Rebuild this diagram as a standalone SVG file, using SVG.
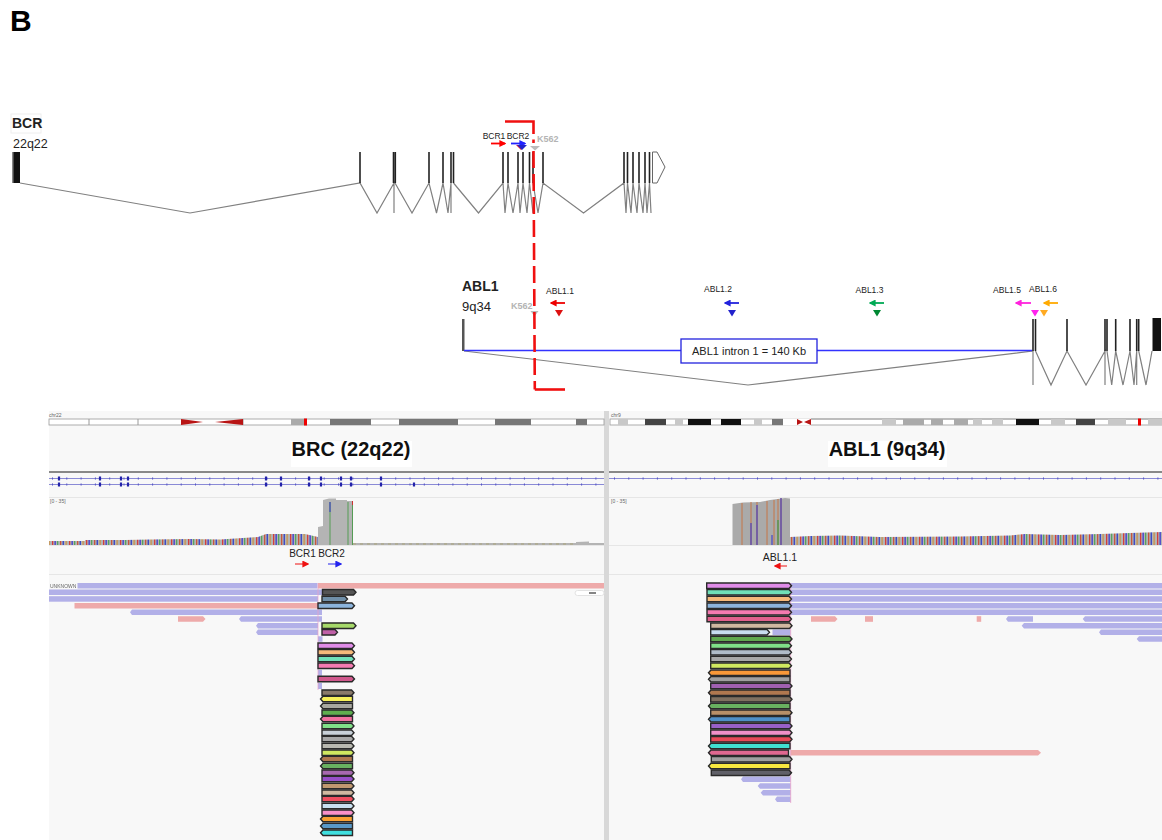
<svg xmlns="http://www.w3.org/2000/svg" width="1162" height="840" viewBox="0 0 1162 840">
<style>
text{font-family:"Liberation Sans",Arial,sans-serif;fill:#222}
.lab{font-size:8.5px;text-anchor:middle}
.k{font-size:9px;font-weight:700;fill:#b4b4b4}
.ex{stroke:#222;stroke-width:1.6;fill:none}
.in{stroke:#808080;stroke-width:1.2;fill:none}
.title{font-size:20px;font-weight:700;fill:#111;text-anchor:middle}
.igv{font-size:10px;fill:#222;text-anchor:middle}
.tiny{font-size:5px;fill:#666}
.r{stroke:#2a2a2a;stroke-width:1.4}
.b{fill:#b2b0e8}.p{fill:#eeaaaa}
.dk{fill:#777}.md{fill:#aaa}.lt{fill:#c8c8c8}.bk{fill:#111}.wh{fill:#fff}
</style>
<defs>
<marker id="ar" viewBox="0 0 10 10" refX="8" refY="5" markerWidth="7" markerHeight="7" markerUnits="userSpaceOnUse" orient="auto-start-reverse"><path d="M0 0L10 5L0 10Z" fill="context-stroke"/></marker>
<pattern id="mm" width="17" height="40" patternUnits="userSpaceOnUse"><rect width="17" height="40" fill="#b4b4b4"/><rect x="1" width="1.3" height="40" fill="#d43c3c"/><rect x="3.5" width="1.3" height="40" fill="#3a3ad0"/><rect x="6.2" width="1" height="40" fill="#3fa04a"/><rect x="9" width="1.3" height="40" fill="#c8553c"/><rect x="11.6" width="1.3" height="40" fill="#2f3fc8"/><rect x="14.6" width="1" height="40" fill="#d08a30"/></pattern>
<filter id="s" x="-2%" y="-2%" width="104%" height="104%"><feGaussianBlur stdDeviation="0.35"/></filter>
</defs>
<rect width="1162" height="840" fill="#fff"/>
<text x="10" y="31" font-size="30" font-weight="700" style="fill:#000">B</text>

<g id="gene-bcr">
<rect x="11" y="114" width="30" height="19" fill="#fff" stroke="#eee"/>
<text x="12" y="128" font-size="14" font-weight="700">BCR</text>
<text x="13" y="148" font-size="12.500">22q22</text>
<rect x="12" y="152" width="8" height="31" class="bk"/><rect x="12" y="152" width="1.5" height="31" fill="#888"/>
<path class="in" d="M20 183L190 213L360 183L377 213L394 183V213M395 183L412 213L429 183L436.500 213L443 183L448 213L451 183V213M453.500 183L478.500 213L503 183L505 213L508 183L513 213L518 183L520 213L523 183L527 213L529.500 183L533 213M533 183L538 213L543 183L583.500 213L624 183L626 213L627.500 183L631 213L633 183L637 213L639 183L643 213L645 183L647 213L649.500 183L651 213"/>
<path class="ex" d="M360 152V183M393.500 152V183M395.300 152V183M429 152V183M443 152V183M451 152V183M453.500 152V183M503 152V183M508 152V183M518 152V183M523 152V183M529.500 152V183M533 152V183M543 152V183M624 152V183M627.500 152V183M633 152V183M639 152V183M645 152V183M649.500 152V183"/>
<path d="M652.500 152H657L665 167L657 183H652.500Z" fill="#fff" stroke="#666"/>
</g>

<g id="primers-bcr">
<text class="lab" x="494" y="139">BCR1</text><text class="lab" x="518" y="139">BCR2</text>
<text class="k" x="537" y="142">K562</text>
<path d="M491 143.500H505" stroke="#f00" stroke-width="1.800" marker-end="url(#ar)"/>
<path d="M511 143.500H525" stroke="#22f" stroke-width="1.800" marker-end="url(#ar)"/>
<path d="M516 145H526L521 150Z" fill="#e22"/><path d="M517 145H527L522 150Z" fill="#22c"/>
<path d="M530 146H540L535 150.500Z" fill="#bbb"/>
</g>

<g id="gene-abl1">
<text x="462" y="291" font-size="14" font-weight="700">ABL1</text>
<text x="462" y="311" font-size="13">9q34</text>
<rect x="462" y="319" width="2.500" height="32" fill="#555"/>
<path class="in" d="M464 351L748 385L1033 351V385M1035.500 351L1051 385L1067 351L1086 385L1105 351V385M1107 351L1111.700 385L1115.700 351L1123 385L1130 351L1134 385L1136.700 351V385M1138.700 351L1146 385L1152 351"/>
<path d="M464 350.500H681M817 350.500H1032" stroke="#33f" stroke-width="1.600" fill="none"/>
<path class="ex" d="M1033 319V351M1035.500 319V351M1067 319V351M1105 319V351M1107 319V351M1115.700 319V351M1130 319V351M1136.700 319V351M1138.700 319V351"/>
<rect x="1152.500" y="318" width="8.500" height="33" class="bk"/>
<rect x="681" y="339" width="136" height="24" fill="#fff" stroke="#22d" stroke-width="1.300"/>
<text x="749" y="355" font-size="11" text-anchor="middle">ABL1 intron 1 = 140 Kb</text>
</g>

<g id="primers-abl1">
<text class="lab" x="560" y="294">ABL1.1</text><text class="lab" x="718" y="292">ABL1.2</text><text class="lab" x="869.500" y="293">ABL1.3</text><text class="lab" x="1007" y="293">ABL1.5</text><text class="lab" x="1043" y="292">ABL1.6</text>
<text class="k" x="511" y="309">K562</text>
<path d="M565 303H551" stroke="#e00" stroke-width="1.800" marker-end="url(#ar)"/>
<path d="M739 303H725" stroke="#22d" stroke-width="1.800" marker-end="url(#ar)"/>
<path d="M884 303H870" stroke="#0a5" stroke-width="1.800" marker-end="url(#ar)"/>
<path d="M1031 303H1016" stroke="#f2d" stroke-width="1.800" marker-end="url(#ar)"/>
<path d="M1058 303H1044" stroke="#fa0" stroke-width="1.800" marker-end="url(#ar)"/>
<path d="M555 310H563L559 316.500Z" fill="#d11"/><path d="M728 310H736L732 316.500Z" fill="#22c"/><path d="M873 310H881L877 316.500Z" fill="#083"/><path d="M1031 310H1039L1035 316.500Z" fill="#f2e"/><path d="M1040 310H1048L1044 316.500Z" fill="#fa2"/><path d="M530.500 311H538.500L534.500 316.500Z" fill="#bbb"/>
</g>

<g id="panels">
<rect x="49" y="411" width="1113" height="429" fill="#f8f8f8"/>
<rect x="604" y="411" width="5" height="429" fill="#d8d8d8"/>
<path d="M49 472H604M609 472H1162" stroke="#888" stroke-width="2"/>
<path d="M49 497.500H604M609 497.500H1162M49 545.500H604M609 545.500H1162M49 574.500H604M609 574.500H1162" stroke="#e6e6e6"/>
<rect x="291" y="441" width="121" height="26" fill="#fff"/><rect x="828" y="441" width="119" height="26" fill="#fff"/>
<text class="title" x="351" y="456">BRC (22q22)</text>
<text class="title" x="887" y="456">ABL1 (9q34)</text>
<text class="tiny" x="49" y="417">chr22</text><text class="tiny" x="611" y="417">chr9</text>
<text class="tiny" x="50" y="503">[0 - 35]</text><text class="tiny" x="611" y="503">[0 - 35]</text>
</g>

<g id="ideogram-chr22">
<rect x="49" y="419" width="555" height="6" fill="#fff" stroke="#999" stroke-width="0.800"/>
<path d="M89 419V425M138 419V425M243 419V425" stroke="#999"/>
<path d="M181 419L203 422L181 425ZM243 419L215 422L243 425Z" fill="#b81414"/>
<rect x="291" y="419" width="13" height="6" class="md"/><rect x="304" y="418.500" width="3" height="7" fill="#e00"/>
<rect x="330" y="419" width="41" height="6" class="dk"/><rect x="399" y="419" width="59" height="6" class="dk"/><rect x="495" y="419" width="36" height="6" class="dk"/><rect x="576" y="419" width="11" height="6" class="dk"/>
</g>
<g id="ideogram-chr9">
<rect x="610" y="419" width="552" height="6" fill="#fff" stroke="#999" stroke-width="0.800"/>
<rect x="618" y="419" width="10" height="6" class="lt"/><rect x="645" y="419" width="21" height="6" fill="#444"/><rect x="675" y="419" width="8" height="6" class="lt"/><rect x="688" y="419" width="23" height="6" class="bk"/><rect x="721" y="419" width="20" height="6" class="bk"/><rect x="754" y="419" width="8" height="6" class="lt"/><rect x="772" y="419" width="11" height="6" class="dk"/>
<rect x="783" y="418.500" width="28" height="7" fill="#fff"/>
<path d="M797 419L803 422L797 425ZM811 419L804 422L811 425Z" fill="#b81414"/>
<path d="M811 419H1162" stroke="#999" stroke-width="0.800"/>
<rect x="882" y="419" width="14" height="6" class="lt"/><rect x="903" y="419" width="21" height="6" class="md"/><rect x="931" y="419" width="12" height="6" class="md"/><rect x="954" y="419" width="14" height="6" class="md"/><rect x="973" y="419" width="9" height="6" class="lt"/><rect x="992" y="419" width="11" height="6" class="lt"/><rect x="1016" y="419" width="23" height="6" class="bk"/><rect x="1051" y="419" width="14" height="6" class="lt"/><rect x="1076" y="419" width="19" height="6" fill="#444"/><rect x="1108" y="419" width="18" height="6" class="lt"/><rect x="1138" y="418.500" width="3" height="7" fill="#e00"/><rect x="1148" y="419" width="14" height="6" class="lt"/>
</g>

<g id="gene-tracks" stroke="#33b">
<path d="M49 478.500H604M49 484.500H604M609 478.500H1162" stroke-width="0.700" fill="none" opacity="0.800"/>
<path d="M52 478.500H604M52 484.500H604M614 478.500H1162" stroke-width="2.500" stroke-dasharray="1 13.300" fill="none" opacity="0.600"/>
<path d="M59 476.500V480.500M100 476.500V480.500M121 476.500V480.500M128 476.500V480.500M266 476.500V480.500M281 476.500V480.500M309 476.500V480.500M321 476.500V480.500M341 476.500V480.500M351 476.500V480.500M381 476.500V480.500M59 482.500V486.500M100 482.500V486.500M121 482.500V486.500M128 482.500V486.500M266 482.500V486.500M281 482.500V486.500M309 482.500V486.500M321 482.500V486.500M341 482.500V486.500M351 482.500V486.500M381 482.500V486.500M414 482.500V486.500" stroke="#22a" stroke-width="2.200"/>
</g>

<g id="coverage" filter="url(#s)">
<path fill="url(#mm)" d="M49 541L85 541V540L125 540L150 539.500L190 539L220 539.500L258 537L266 534H305L318 537V545H49Z"/>
<path fill="#b4b4b4" d="M318 545V527L323 526V500L329 498.500H336V500H347V501H353V545Z"/>
<path d="M330 502V545M348 502V545M352.500 501V545" stroke="#4a9a4a" stroke-width="0.900"/><path d="M330 502V512" stroke="#33c" stroke-width="1"/><path d="M352.500 501V505" stroke="#c33"/>
<path fill="#b4b4b4" d="M353 543H576V542L589 541.500V543H604V545H353Z"/>
<path d="M353 544H576" stroke="#a9a26c" stroke-width="0.800" stroke-dasharray="3 4"/>
<path fill="#aaa" d="M732.500 545V504L743 502.500L760 502L770 500L785 498L790 498.500V545Z"/>
<path d="M742 503V545M751 502V545M757 502V545M767 501V545M774 500V545M778 499V545M781 498V545" stroke="#c8703c" stroke-width="0.900"/>
<path d="M751 523V545M757 505V545M772 535V545" stroke="#33c" stroke-width="1"/><path d="M778 520V545" stroke="#3a9a4a" stroke-width="1.200"/><path d="M781 498V545" stroke="#33c" stroke-width="1"/>
<path fill="url(#mm)" d="M790 545V537L811 536L840 535.500L880 537L960 536.500L1010 535.500L1025 534L1060 535L1100 534L1130 533L1162 532V545Z"/>
</g>

<g id="primer-labels">
<text class="igv" x="302.500" y="557">BCR1</text><text class="igv" x="331.500" y="557">BCR2</text>
<path d="M295 564H308" stroke="#e11" stroke-width="1" marker-end="url(#ar)"/>
<path d="M328 564H341" stroke="#22e" stroke-width="1" marker-end="url(#ar)"/>
<text class="igv" x="780" y="561" style="font-size:10.500px">ABL1.1</text>
<path d="M787 566H775" stroke="#e11" stroke-width="1" marker-end="url(#ar)"/>
</g>

<g id="reads-left" filter="url(#s)">
<text x="50" y="587.500" font-size="5" style="fill:#666">UNKNOWN</text>
<rect class="b" x="77.500" y="583" width="240" height="5.500"/><rect class="p" x="318" y="583" width="286" height="5.500"/>
<rect class="b" x="49" y="589.500" width="273" height="5.500"/>
<rect class="b" x="49" y="596.200" width="269" height="5.500"/>
<rect class="p" x="74.500" y="603" width="243.500" height="5.500"/>
<path class="b" d="M130 612.200L132 609.500H322V615H132Z"/>
<path class="p" d="M178 616.200H203L205.500 619L203 621.800H178Z"/>
<path class="b" d="M239 619L241 616.200H322V621.800H241Z"/>
<path class="b" d="M256 625.700L258 623H318V628.500H258Z"/>
<path class="b" d="M256 632.300L258 629.500H318V635H258Z"/>
<rect class="b" x="318" y="636.300" width="4.500" height="5.500"/><rect class="b" x="318" y="669.800" width="4" height="6"/><rect class="b" x="318" y="683" width="4" height="6"/>
<path d="M318 583V690" stroke="#e8a0c8" stroke-width="0.700"/>
<rect x="575" y="590.500" width="29" height="5" rx="2.500" fill="#fff" stroke="#e2e2e2"/><path d="M589 593H596" stroke="#333" stroke-width="1.200"/>
<g class="r">
<path fill="#555" d="M322.500 589.500H353.500L356 592.300L353.500 595H322.500Z"/>
<path fill="#6f8fa8" d="M322 596.200H345L347.500 599L345 601.700H322Z"/>
<path fill="#8cb4dc" d="M318 603H352L354.500 605.700L352 608.500H318Z"/>
<path fill="#a6d96a" d="M322 623H353.500L356 625.700L353.500 628.500H322Z"/>
<path fill="#c060a8" d="M322 629.500H335L337.500 632.300L335 635H322Z"/>
<path fill="#e08ce8" d="M318 643H352L354.500 645.700L352 648.500H318Z"/>
<path fill="#f5b97a" d="M318 649.500H352L354.500 652.300L352 655H318Z"/>
<path fill="#6fe0b8" d="M318 656.200H352L354.500 659L352 661.700H318Z"/>
<path fill="#f47ab0" d="M318 663H352L354.500 665.700L352 668.500H318Z"/>
<path fill="#d0588c" d="M318 676.300H352L354.500 679L352 681.800H318Z"/>
<path fill="#8a7a6a" d="M322 690H351.500L354 692.700L351.500 695.500H322Z"/>
<path fill="#f6f05a" d="M352.500 696.300H323L320.500 699L323 701.800H352.500Z"/>
<path fill="#a8a8a0" d="M352.500 703.300H323L320.500 706L323 708.800H352.500Z"/>
<path fill="#5fae50" d="M322 710H351.500L354 712.700L351.500 715.500H322Z"/>
<path fill="#f070a0" d="M352.500 716.300H323L320.500 719L323 721.800H352.500Z"/>
<path fill="#80e088" d="M322 723.300H351.500L354 726L351.500 728.800H322Z"/>
<path fill="#c8d0d8" d="M322 730H351.500L354 732.700L351.500 735.500H322Z"/>
<path fill="#a8a8a8" d="M322 736.300H351.500L354 739L351.500 741.800H322Z"/>
<path fill="#b8b8b0" d="M322 743.300H351.500L354 746L351.500 748.800H322Z"/>
<path fill="#d0e860" d="M322 750H351.500L354 752.700L351.500 755.500H322Z"/>
<path fill="#b07850" d="M352.500 756.300H323L320.500 759L323 761.800H352.500Z"/>
<path fill="#68b060" d="M352.500 763.300H323L320.500 766L323 768.800H352.500Z"/>
<path fill="#a868b0" d="M322 770H351.500L354 772.700L351.500 775.500H322Z"/>
<path fill="#9850c8" d="M322 776.300H351.500L354 779L351.500 781.800H322Z"/>
<path fill="#c09870" d="M322 783.300H351.500L354 786L351.500 788.800H322Z"/>
<path fill="#d0b8a0" d="M322 790H351.500L354 792.700L351.500 795.500H322Z"/>
<path fill="#f05060" d="M322 796.300H351.500L354 799L351.500 801.800H322Z"/>
<path fill="#c8e0f0" d="M322 803.300H351.500L354 806L351.500 808.800H322Z"/>
<path fill="#f890c8" d="M322 810H351.500L354 812.700L351.500 815.500H322Z"/>
<path fill="#f8a030" d="M352.500 816.300H323L320.500 819L323 821.800H352.500Z"/>
<path fill="#5898c8" d="M352.500 823.300H323L320.500 826L323 828.800H352.500Z"/>
<path fill="#40e0e0" d="M352.500 830H323L320.500 832.700L323 835.500H352.500Z"/>
</g>
</g>

<g id="reads-right" filter="url(#s)">
<rect class="b" x="790" y="583" width="372" height="5.500"/><rect class="b" x="790" y="589.500" width="372" height="5.500"/><rect class="b" x="790" y="596.200" width="372" height="5.500"/><rect class="b" x="790" y="603" width="372" height="5.500"/><rect class="b" x="790" y="609.500" width="372" height="5.500"/>
<path class="p" d="M811 616.200H835L837.500 619L835 621.800H811Z"/><rect class="p" x="865" y="616.200" width="8" height="5.600"/><rect class="p" x="976.700" y="616.200" width="4.500" height="5.600"/>
<path class="b" d="M1006 619L1008 616.200H1033V621.800H1008Z"/><path class="b" d="M1082.700 619L1085 616.200H1162V621.800H1085Z"/>
<path class="b" d="M1021.700 625.700L1024 623H1162V628.500H1024Z"/><path class="b" d="M1099 632.300L1101 629.500H1162V635H1101Z"/><path class="b" d="M1136.700 639L1139 636.300H1162V641.800H1139Z"/>
<rect class="b" x="772.500" y="629.500" width="18" height="5.500"/>
<path class="b" d="M741 779.300L743 776.500H790.700V782H743Z"/><path class="b" d="M757.700 786L760 783.300H790.700V788.800H760Z"/><path class="b" d="M760.700 792.700L763 790H790.700V795.500H763Z"/><path class="b" d="M775 799.300L777 796.500H790.700V802H777Z"/>
<path class="p" d="M790.500 750H1038L1041 752.700L1038 755.500H790.500Z"/>
<path d="M790.700 583V803" stroke="#e8a0c8" stroke-width="0.800"/>
<g class="r">
<path fill="#e08ce8" d="M706.700 583H789L791.500 585.700L789 588.500H706.700Z"/>
<path fill="#6fe0b8" d="M707 589.500H789L791.500 592.300L789 595H707Z"/>
<path fill="#f5b97a" d="M707 596.200H789L791.500 599L789 601.700H707Z"/>
<path fill="#8cb4dc" d="M707 603H789L791.500 605.700L789 608.500H707Z"/>
<path fill="#f47ab0" d="M707 609.500H789L791.500 612.300L789 615H707Z"/>
<path fill="#e0608c" d="M707 616.200H789L791.500 619L789 621.800H707Z"/>
<path fill="#d0b8a0" d="M710.700 623H789.500L792 625.700L789.500 628.500H710.700Z"/>
<path fill="#c8dcf0" d="M710.700 629.500H767L769.500 632.300L767 635H710.700Z"/>
<path fill="#60a850" d="M710.700 636.300H789.500L792 639L789.500 641.800H710.700Z"/>
<path fill="#80e088" d="M710.700 643H789L791.500 645.700L789 648.500H710.700Z"/>
<path fill="#b0bcc8" d="M710.700 649.500H789L791.500 652.300L789 655H710.700Z"/>
<path fill="#a8a8a8" d="M710.700 656.200H789L791.500 659L789 661.700H710.700Z"/>
<path fill="#d0e860" d="M710.700 663H789L791.500 665.700L789 668.500H710.700Z"/>
<path fill="#f89838" d="M790 670H711L708.500 672.700L711 675.500H790Z"/>
<path fill="#a0a0a0" d="M790 676.500H711L708.500 679.300L711 682H790Z"/>
<path fill="#a060b0" d="M710.700 683.300H789.500L792 686L789.500 688.800H710.700Z"/>
<path fill="#b07850" d="M790 690H711L708.500 692.700L711 695.500H790Z"/>
<path fill="#807060" d="M710.700 696.500H789.500L792 699.300L789.500 702H710.700Z"/>
<path fill="#68b060" d="M790 703.300H711L708.500 706L711 708.800H790Z"/>
<path fill="#b89068" d="M710.700 710H789.500L792 712.700L789.500 715.500H710.700Z"/>
<path fill="#4f90c8" d="M790 716.500H711L708.500 719.300L711 722H790Z"/>
<path fill="#9860c8" d="M710.700 723.300H789.500L792 726L789.500 728.800H710.700Z"/>
<path fill="#f090c8" d="M710.700 730H789.500L792 732.700L789.500 735.500H710.700Z"/>
<path fill="#e84858" d="M710.700 736.500H789.500L792 739.300L789.500 742H710.700Z"/>
<path fill="#40e0d0" d="M790 743.300H711L708.500 746L711 748.800H790Z"/>
<path fill="#e06890" d="M788.500 750H711L708.500 752.700L711 755.500H788.500Z"/>
<path fill="#a0a0a0" d="M711.300 756.500H789.500L792 759.300L789.500 762H711.300Z"/>
<path fill="#f8e840" d="M790 763.300H711L708.500 766L711 768.800H790Z"/>
<path fill="#606068" d="M711.300 770H789L791.500 772.700L789 775.500H711.300Z"/>
</g>
</g>

<g id="breakpoint" fill="none" stroke="#f01010" stroke-width="2.600">
<path d="M505 121.500H533.500V134"/>
<path d="M533.500 139.500V143"/>
<path d="M533.500 151L534.800 389.500" stroke-dasharray="17 6"/>
<path d="M534.800 389.500H565"/>
</g>
</svg>
